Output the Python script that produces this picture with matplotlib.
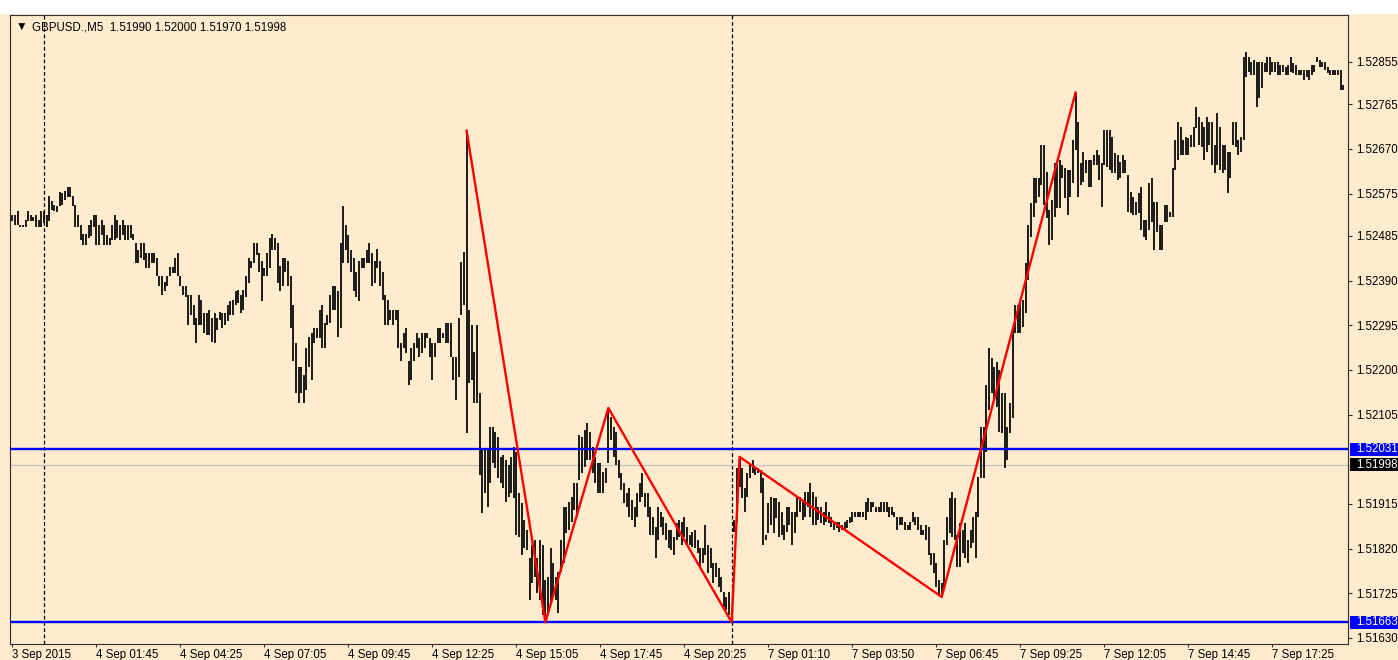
import numpy as np
import matplotlib
matplotlib.use("Agg")
import matplotlib.pyplot as plt
from matplotlib.patches import Rectangle
from matplotlib.transforms import blended_transform_factory

# GBPUSD M5 bars, high and low of each bar (oldest first)
highs = [
    1.52530, 1.52530, 1.52539, 1.52509, 1.52509, 1.52519, 1.52539, 1.52530, 1.52526, 1.52530,
    1.52519, 1.52539, 1.52539, 1.52530, 1.52569, 1.52560, 1.52550, 1.52548, 1.52578, 1.52576,
    1.52580, 1.52588, 1.52588, 1.52569, 1.52550, 1.52530, 1.52509, 1.52489, 1.52489, 1.52509,
    1.52519, 1.52530, 1.52530, 1.52509, 1.52519, 1.52509, 1.52487, 1.52480, 1.52509, 1.52530,
    1.52519, 1.52509, 1.52519, 1.52509, 1.52509, 1.52509, 1.52489, 1.52470, 1.52456, 1.52470,
    1.52470, 1.52449, 1.52449, 1.52449, 1.52449, 1.52438, 1.52399, 1.52399, 1.52388, 1.52399,
    1.52418, 1.52418, 1.52438, 1.52449, 1.52399, 1.52378, 1.52378, 1.52360, 1.52360, 1.52339,
    1.52310, 1.52360, 1.52349, 1.52321, 1.52321, 1.52328, 1.52310, 1.52321, 1.52310, 1.52324,
    1.52321, 1.52321, 1.52339, 1.52346, 1.52349, 1.52367, 1.52371, 1.52360, 1.52371, 1.52399,
    1.52438, 1.52431, 1.52470, 1.52470, 1.52449, 1.52431, 1.52417, 1.52449, 1.52481, 1.52490,
    1.52481, 1.52470, 1.52420, 1.52438, 1.52438, 1.52431, 1.52399, 1.52339, 1.52257, 1.52207,
    1.52207, 1.52190, 1.52246, 1.52271, 1.52278, 1.52289, 1.52289, 1.52328, 1.52339, 1.52300,
    1.52317, 1.52360, 1.52378, 1.52378, 1.52367, 1.52470, 1.52549, 1.52509, 1.52488, 1.52456,
    1.52438, 1.52409, 1.52431, 1.52438, 1.52438, 1.52456, 1.52470, 1.52449, 1.52431, 1.52457,
    1.52431, 1.52409, 1.52360, 1.52349, 1.52328, 1.52328, 1.52328, 1.52328, 1.52257, 1.52278,
    1.52289, 1.52218, 1.52246, 1.52257, 1.52278, 1.52268, 1.52278, 1.52278, 1.52278, 1.52268,
    1.52257, 1.52257, 1.52289, 1.52289, 1.52278, 1.52300, 1.52300, 1.52300, 1.52228, 1.52228,
    1.52311, 1.52430, 1.52451, 1.52709, 1.52328, 1.52296, 1.52238, 1.52296, 1.52151, 1.52030,
    1.52030, 1.52030, 1.52079, 1.52079, 1.52068, 1.52058, 1.52015, 1.52019, 1.52009, 1.51998,
    1.52015, 1.52036, 1.52026, 1.51938, 1.51917, 1.51881, 1.51860, 1.51800, 1.51828, 1.51838,
    1.51800, 1.51838, 1.51828, 1.51753, 1.51760, 1.51821, 1.51789, 1.51760, 1.51770, 1.51838,
    1.51909, 1.51909, 1.51919, 1.51930, 1.51960, 1.51960, 1.52062, 1.52058, 1.52073, 1.52087,
    1.52068, 1.52036, 1.52015, 1.52002, 1.52002, 1.51983, 1.51992, 1.52119, 1.52100, 1.52079,
    1.52068, 1.52009, 1.51981, 1.51960, 1.51938, 1.51949, 1.51924, 1.51909, 1.51938, 1.51960,
    1.51981, 1.51938, 1.51938, 1.51909, 1.51887, 1.51866, 1.51909, 1.51898, 1.51887, 1.51875,
    1.51860, 1.51860, 1.51845, 1.51875, 1.51881, 1.51877, 1.51887, 1.51866, 1.51849, 1.51855,
    1.51860, 1.51838, 1.51821, 1.51821, 1.51870, 1.51828, 1.51821, 1.51789, 1.51789, 1.51779,
    1.51760, 1.51728, 1.51717, 1.51728, 1.51696, 1.51881, 1.51992, 1.52015, 1.51992, 1.51949,
    1.51981, 1.51998, 1.52009, 1.51992, 1.51992, 1.51987, 1.51970, 1.51849, 1.51917, 1.51930,
    1.51928, 1.51928, 1.51919, 1.51898, 1.51870, 1.51909, 1.51909, 1.51898, 1.51898, 1.51930,
    1.51930, 1.51919, 1.51941, 1.51941, 1.51960, 1.51941, 1.51930, 1.51909, 1.51909, 1.51898,
    1.51919, 1.51898, 1.51887, 1.51877, 1.51877, 1.51877, 1.51870, 1.51877, 1.51881, 1.51887,
    1.51898, 1.51898, 1.51898, 1.51898, 1.51898, 1.51919, 1.51928, 1.51919, 1.51919, 1.51909,
    1.51909, 1.51919, 1.51919, 1.51919, 1.51909, 1.51909, 1.51898, 1.51887, 1.51887, 1.51887,
    1.51877, 1.51870, 1.51877, 1.51898, 1.51887, 1.51887, 1.51870, 1.51860, 1.51870, 1.51866,
    1.51811, 1.51811, 1.51789, 1.51753, 1.51747, 1.51838, 1.51887, 1.51928, 1.51941, 1.51928,
    1.51849, 1.51875, 1.51860, 1.51875, 1.51838, 1.51860, 1.51887, 1.51898, 1.51972, 1.52079,
    1.52079, 1.52168, 1.52247, 1.52226, 1.52207, 1.52217, 1.52200, 1.52151, 1.52151, 1.52079,
    1.52130, 1.52290, 1.52339, 1.52339, 1.52343, 1.52349, 1.52428, 1.52509, 1.52556, 1.52609,
    1.52609, 1.52609, 1.52679, 1.52679, 1.52620, 1.52541, 1.52562, 1.52641, 1.52641, 1.52647,
    1.52636, 1.52630, 1.52626, 1.52626, 1.52690, 1.52790, 1.52728, 1.52641, 1.52664, 1.52647,
    1.52647, 1.52647, 1.52658, 1.52668, 1.52658, 1.52641, 1.52711, 1.52711, 1.52711, 1.52696,
    1.52662, 1.52658, 1.52643, 1.52658, 1.52647, 1.52615, 1.52579, 1.52568, 1.52558, 1.52577,
    1.52590, 1.52519, 1.52519, 1.52598, 1.52609, 1.52558, 1.52558, 1.52509, 1.52509, 1.52551,
    1.52551, 1.52536, 1.52630, 1.52690, 1.52728, 1.52717, 1.52690, 1.52696, 1.52694, 1.52700,
    1.52717, 1.52760, 1.52739, 1.52728, 1.52717, 1.52739, 1.52728, 1.52728, 1.52679, 1.52747,
    1.52717, 1.52679, 1.52679, 1.52664, 1.52664, 1.52728, 1.52728, 1.52690, 1.52696, 1.52866,
    1.52877, 1.52866, 1.52856, 1.52860, 1.52856, 1.52856, 1.52856, 1.52853, 1.52866, 1.52866,
    1.52856, 1.52856, 1.52856, 1.52849, 1.52849, 1.52845, 1.52849, 1.52866, 1.52853, 1.52849,
    1.52839, 1.52839, 1.52839, 1.52839, 1.52839, 1.52849, 1.52849, 1.52866, 1.52860, 1.52856,
    1.52856, 1.52845, 1.52839, 1.52839, 1.52839, 1.52839, 1.52839, 1.52807,
]
lows = [
    1.52516, 1.52509, 1.52509, 1.52505, 1.52505, 1.52505, 1.52516, 1.52516, 1.52516, 1.52505,
    1.52505, 1.52505, 1.52512, 1.52505, 1.52516, 1.52541, 1.52537, 1.52536, 1.52548, 1.52551,
    1.52562, 1.52567, 1.52567, 1.52548, 1.52505, 1.52505, 1.52477, 1.52466, 1.52466, 1.52481,
    1.52484, 1.52505, 1.52466, 1.52466, 1.52488, 1.52466, 1.52466, 1.52466, 1.52477, 1.52477,
    1.52481, 1.52477, 1.52488, 1.52477, 1.52477, 1.52481, 1.52477, 1.52427, 1.52427, 1.52438,
    1.52434, 1.52417, 1.52417, 1.52427, 1.52427, 1.52399, 1.52378, 1.52360, 1.52367, 1.52378,
    1.52399, 1.52406, 1.52406, 1.52399, 1.52378, 1.52360, 1.52356, 1.52296, 1.52317, 1.52296,
    1.52257, 1.52296, 1.52296, 1.52278, 1.52275, 1.52275, 1.52260, 1.52257, 1.52285, 1.52307,
    1.52289, 1.52296, 1.52303, 1.52317, 1.52317, 1.52339, 1.52342, 1.52321, 1.52328, 1.52356,
    1.52385, 1.52417, 1.52427, 1.52445, 1.52409, 1.52346, 1.52399, 1.52399, 1.52417, 1.52456,
    1.52456, 1.52385, 1.52367, 1.52378, 1.52409, 1.52378, 1.52289, 1.52218, 1.52151, 1.52129,
    1.52151, 1.52129, 1.52158, 1.52207, 1.52179, 1.52257, 1.52268, 1.52268, 1.52246, 1.52246,
    1.52296, 1.52300, 1.52328, 1.52328, 1.52271, 1.52289, 1.52427, 1.52456, 1.52427, 1.52409,
    1.52367, 1.52356, 1.52346, 1.52417, 1.52417, 1.52427, 1.52427, 1.52378, 1.52385, 1.52417,
    1.52378, 1.52349, 1.52296, 1.52296, 1.52307, 1.52296, 1.52307, 1.52246, 1.52218, 1.52246,
    1.52236, 1.52168, 1.52179, 1.52218, 1.52246, 1.52228, 1.52236, 1.52246, 1.52268, 1.52228,
    1.52179, 1.52228, 1.52257, 1.52257, 1.52268, 1.52257, 1.52257, 1.52228, 1.52179, 1.52136,
    1.52185, 1.52317, 1.52339, 1.52066, 1.52173, 1.52179, 1.52130, 1.52130, 1.51977, 1.51896,
    1.51938, 1.51909, 1.51960, 1.52002, 1.51992, 1.51970, 1.51960, 1.51949, 1.51919, 1.51930,
    1.51938, 1.51928, 1.51849, 1.51845, 1.51807, 1.51821, 1.51817, 1.51711, 1.51747, 1.51760,
    1.51726, 1.51711, 1.51679, 1.51663, 1.51683, 1.51704, 1.51717, 1.51711, 1.51683, 1.51770,
    1.51789, 1.51853, 1.51860, 1.51877, 1.51902, 1.51887, 1.51966, 1.51981, 1.51994, 1.52009,
    1.52009, 1.51981, 1.51960, 1.51938, 1.51938, 1.51938, 1.51960, 1.52002, 1.52051, 1.52015,
    1.51998, 1.51970, 1.51945, 1.51917, 1.51909, 1.51887, 1.51881, 1.51866, 1.51887, 1.51919,
    1.51930, 1.51909, 1.51887, 1.51849, 1.51849, 1.51800, 1.51838, 1.51866, 1.51849, 1.51838,
    1.51821, 1.51817, 1.51807, 1.51838, 1.51845, 1.51828, 1.51845, 1.51828, 1.51828, 1.51824,
    1.51821, 1.51811, 1.51779, 1.51789, 1.51807, 1.51768, 1.51779, 1.51747, 1.51760, 1.51738,
    1.51728, 1.51696, 1.51689, 1.51679, 1.51663, 1.51855, 1.51877, 1.51951, 1.51928, 1.51898,
    1.51930, 1.51970, 1.51981, 1.51977, 1.51981, 1.51938, 1.51828, 1.51838, 1.51853, 1.51870,
    1.51853, 1.51885, 1.51845, 1.51849, 1.51838, 1.51855, 1.51870, 1.51828, 1.51853, 1.51887,
    1.51898, 1.51881, 1.51887, 1.51909, 1.51887, 1.51870, 1.51870, 1.51881, 1.51875, 1.51870,
    1.51877, 1.51875, 1.51866, 1.51860, 1.51864, 1.51855, 1.51860, 1.51860, 1.51864, 1.51875,
    1.51877, 1.51887, 1.51887, 1.51887, 1.51887, 1.51881, 1.51898, 1.51898, 1.51909, 1.51898,
    1.51898, 1.51898, 1.51898, 1.51898, 1.51887, 1.51892, 1.51887, 1.51860, 1.51870, 1.51870,
    1.51860, 1.51860, 1.51860, 1.51877, 1.51870, 1.51860, 1.51849, 1.51849, 1.51838, 1.51807,
    1.51785, 1.51768, 1.51738, 1.51721, 1.51717, 1.51732, 1.51828, 1.51853, 1.51845, 1.51838,
    1.51781, 1.51781, 1.51811, 1.51800, 1.51790, 1.51821, 1.51832, 1.51800, 1.51887, 1.51970,
    1.51970, 1.52026, 1.52115, 1.52151, 1.52136, 1.52121, 1.52068, 1.52066, 1.51992, 1.52009,
    1.52066, 1.52098, 1.52279, 1.52279, 1.52279, 1.52292, 1.52322, 1.52392, 1.52483, 1.52526,
    1.52556, 1.52568, 1.52594, 1.52551, 1.52524, 1.52466, 1.52477, 1.52526, 1.52545, 1.52545,
    1.52609, 1.52566, 1.52530, 1.52568, 1.52598, 1.52668, 1.52568, 1.52594, 1.52600, 1.52619,
    1.52588, 1.52588, 1.52636, 1.52636, 1.52605, 1.52547, 1.52636, 1.52632, 1.52626, 1.52619,
    1.52619, 1.52605, 1.52609, 1.52619, 1.52619, 1.52536, 1.52534, 1.52530, 1.52530, 1.52534,
    1.52498, 1.52483, 1.52477, 1.52498, 1.52515, 1.52456, 1.52494, 1.52456, 1.52456, 1.52515,
    1.52515, 1.52526, 1.52526, 1.52626, 1.52647, 1.52658, 1.52658, 1.52658, 1.52658, 1.52675,
    1.52675, 1.52715, 1.52679, 1.52675, 1.52647, 1.52664, 1.52679, 1.52636, 1.52619, 1.52636,
    1.52626, 1.52619, 1.52626, 1.52577, 1.52609, 1.52679, 1.52675, 1.52658, 1.52664, 1.52690,
    1.52824, 1.52834, 1.52828, 1.52828, 1.52760, 1.52779, 1.52800, 1.52834, 1.52834, 1.52828,
    1.52834, 1.52834, 1.52828, 1.52828, 1.52834, 1.52828, 1.52828, 1.52834, 1.52832, 1.52828,
    1.52828, 1.52828, 1.52817, 1.52824, 1.52817, 1.52828, 1.52834, 1.52854, 1.52845, 1.52845,
    1.52839, 1.52832, 1.52828, 1.52828, 1.52828, 1.52828, 1.52796, 1.52796,
]

# time labels every 32 bars
time_labels = ["3 Sep 2015", "4 Sep 01:45", "4 Sep 04:25", "4 Sep 07:05", "4 Sep 09:45",
               "4 Sep 12:25", "4 Sep 15:05", "4 Sep 17:45", "4 Sep 20:25", "7 Sep 01:10",
               "7 Sep 03:50", "7 Sep 06:45", "7 Sep 09:25", "7 Sep 12:05", "7 Sep 14:45",
               "7 Sep 17:25"]
price_ticks = [1.52855, 1.52765, 1.52670, 1.52575, 1.52485, 1.52390, 1.52295,
               1.52200, 1.52105, 1.51915, 1.51820, 1.51725, 1.51630]

# zigzag turning points: bar index and which extreme it uses
zz_bars = [173, 203, 227, 274, 277, 354, 405]
zz_kind = ["H", "L", "H", "L", "H", "L", "H"]

# day separators (bar index)
sep_bars = [12, 274]

# horizontal levels
level_lines = [1.52031, 1.51663]
bid = 1.51998
header = "GBPUSD.,M5  1.51990 1.52000 1.51970 1.51998"

BG = "#FFEBCD"
W, H = 1398, 660

plt.rcParams["font.family"] = ["Liberation Sans", "DejaVu Sans"]
plt.rcParams["font.size"] = 8.3

fig = plt.figure(figsize=(W / 100, H / 100), dpi=100, facecolor=BG)
# white strip above the chart window
fig.patches.append(Rectangle((0, 1 - 14 / H), 1, 14 / H, transform=fig.transFigure,
                             facecolor="white", edgecolor="none", zorder=0))

ax = fig.add_axes([10 / W, 1 - 643.5 / H, 1338.3 / W, 629 / H])
ax.set_facecolor(BG)

n = len(highs)
x = np.arange(n)
ax.vlines(x, lows, highs, color="black", lw=1.25, zorder=3)

ax.set_xlim(-0.95, 508.9)
ax.set_ylim(1.51618, 1.52956)

# separators
for b in sep_bars:
    ax.axvline(b, color="black", lw=0.9, ls=(0, (3, 2)), zorder=2)

# bid line and levels
ax.axhline(bid, color="#C0C0C0", lw=0.8, zorder=2)
for lv in level_lines:
    ax.axhline(lv, color="#0000FF", lw=1.7, zorder=4)

# zigzag
zz_y = [highs[b] if k == "H" else lows[b] for b, k in zip(zz_bars, zz_kind)]
ax.plot(zz_bars, zz_y, color="#FF0000", lw=1.7, zorder=5)

# axes / ticks
for s in ax.spines.values():
    s.set_color("#303030")
    s.set_linewidth(0.8)
ax.yaxis.tick_right()
ax.set_yticks(price_ticks)
ax.set_yticklabels(["%.5f" % v for v in price_ticks])
ax.tick_params(axis="y", direction="out", length=3, width=0.8, pad=2.8,
               colors="#303030", labelcolor="black")
ax.set_xticks(np.arange(len(time_labels)) * 32)
ax.set_xticklabels(time_labels, ha="left")
ax.tick_params(axis="x", direction="out", length=2.4, width=0.8, pad=1.4,
               colors="#303030", labelcolor="black")

# price labels on the right scale
tr = blended_transform_factory(fig.transFigure, ax.transData)
box_h = 13 / 629 * (1.52956 - 1.51618)
for val, col in [(level_lines[0], "#0000FF"), (bid, "#000000"), (level_lines[1], "#0000FF")]:
    ax.add_patch(Rectangle((1350 / W, val - box_h / 2), 48 / W, box_h, transform=tr,
                           facecolor=col, edgecolor="none", clip_on=False, zorder=6))
    ax.text(1356 / W, val, "%.5f" % val, transform=tr, color="white", va="center",
            ha="left", clip_on=False, zorder=7)

# header
fig.text(16 / W, 1 - 27.5 / H, "\u25bc", fontsize=8.5, va="center", ha="left")
fig.text(32 / W, 1 - 27.7 / H, header, va="center", ha="left")

fig.savefig("out.png", facecolor=BG)
